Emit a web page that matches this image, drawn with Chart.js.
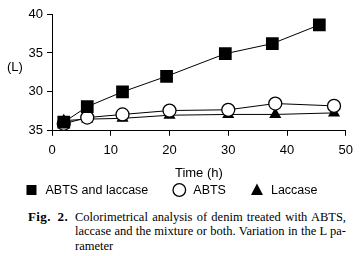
<!DOCTYPE html>
<html>
<head>
<meta charset="utf-8">
<script src="https://cdn.jsdelivr.net/npm/chart.js@4"></script>
<style>
  html, body { margin: 0; padding: 0; background: #fff; }
  #wrap { position: relative; width: 360px; height: 256px; overflow: hidden; }
  #chartBox { position: absolute; left: 0; top: 0; width: 360px; height: 200px; }
  #caption { position: absolute; left: 28px; top: 210px; width: 318px;
    font-family: "Liberation Serif", "Times New Roman", serif; font-size: 12.5px;
    line-height: 14.3px; color: #000; }
  #caption .lab { font-weight: bold; position: absolute; left: 0; top: 0; font-size: 13px; word-spacing: 3px; letter-spacing: 0.4px; }
  #caption .ln { margin-left: 47px; white-space: nowrap; }
  #caption .j { text-align: justify; text-align-last: justify; white-space: normal; }
</style>
</head>
<body>
<div id="wrap">
  <div id="chartBox"><canvas id="c" width="360" height="200"></canvas></div>
  <div id="caption"><span class="lab">Fig. 2.</span><div class="ln j">Colorimetrical analysis of denim treated with ABTS,</div><div class="ln j">laccase and the mixture or both. Variation in the L pa-</div><div class="ln">rameter</div></div>
</div>
<script>
// ---- data ----
const seriesNames = ["ABTS and laccase", "ABTS", "Laccase"];
const timeABTSLaccase = [2, 6, 12, 19.5, 29.5, 37.5, 45.5];
const valABTSLaccase  = [26.1, 28.1, 30.0, 32.0, 34.9, 36.2, 38.6];
const timeABTS = [2, 6, 12, 20, 30, 38, 48];
const valABTS  = [25.9, 26.7, 27.1, 27.6, 27.7, 28.5, 28.2];
const timeLaccase = [2, 6, 12, 20, 30, 38, 48];
const valLaccase  = [26.3, 26.5, 26.6, 27.0, 27.1, 27.1, 27.3];
const yTickValues = [25, 30, 35, 40];
const yTickLabels = ["35", "30", "35", "40"];
const xTickValues = [0, 10, 20, 30, 40, 50];
const xTitle = "Time (h)";
const yTitle = "(L)";

const pts = (xs, ys) => xs.map((x, i) => ({ x: x, y: ys[i] }));
const FONT_FAMILY = '"Liberation Sans", Arial, sans-serif';

const yLabelPlugin = {
  id: 'yLabel',
  afterDraw(chart) {
    const ctx = chart.ctx;
    const y = chart.scales.y.getPixelForValue(33.2);
    ctx.save();
    ctx.fillStyle = '#000';
    ctx.font = '13px ' + FONT_FAMILY;
    ctx.textAlign = 'left';
    ctx.textBaseline = 'middle';
    ctx.fillText(yTitle, 7, y);
    ctx.restore();
  }
};

// legend drawn from the datasets (names + point styles)
const legendPlugin = {
  id: 'customLegend',
  afterDraw(chart) {
    const ctx = chart.ctx;
    ctx.save();
    ctx.font = '12.5px ' + FONT_FAMILY;
    const markW = 14, markGap = 7, itemGap = 24;
    const items = chart.data.datasets.map(ds => ({ ds, w: ctx.measureText(ds.label).width }));
    const total = items.reduce((s, it) => s + markW + markGap + it.w, 0) + itemGap * (items.length - 1);
    let x = chart.width / 2 - total / 2 - 9;
    const y = 190;
    items.forEach(it => {
      const cx = x + markW / 2;
      const ds = it.ds;
      ctx.fillStyle = ds.pointBackgroundColor;
      ctx.strokeStyle = '#000';
      ctx.lineWidth = 1.3;
      ctx.beginPath();
      if (ds.pointStyle === 'rect') {
        ctx.rect(cx - 5, y - 5, 10, 10);
        ctx.fill();
      } else if (ds.pointStyle === 'circle') {
        ctx.arc(cx, y, 6.3, 0, Math.PI * 2);
        ctx.fill(); ctx.stroke();
      } else {
        ctx.moveTo(cx, y - 6.5);
        ctx.lineTo(cx + 6, y + 5);
        ctx.lineTo(cx - 6, y + 5);
        ctx.closePath();
        ctx.fill();
      }
      ctx.fillStyle = '#000';
      ctx.textAlign = 'left';
      ctx.textBaseline = 'middle';
      ctx.fillText(ds.label, x + markW + markGap, y + 0.5);
      x += markW + markGap + it.w + itemGap;
    });
    ctx.restore();
  }
};

const tickFont = { family: FONT_FAMILY, size: 13 };

new Chart(document.getElementById('c'), {
  type: 'line',
  data: {
    datasets: [
      { label: seriesNames[0], data: pts(timeABTSLaccase, valABTSLaccase),
        borderColor: '#000', backgroundColor: '#000', borderWidth: 1,
        pointStyle: 'rect', pointRadius: 9, pointBorderWidth: 0, pointBackgroundColor: '#000' },
      { label: seriesNames[1], data: pts(timeABTS, valABTS),
        borderColor: '#000', backgroundColor: '#fff', borderWidth: 1,
        pointStyle: 'circle', pointRadius: 6.5, pointBorderWidth: 1.3, pointBackgroundColor: '#fff' },
      { label: seriesNames[2], data: pts(timeLaccase, valLaccase),
        borderColor: '#000', backgroundColor: '#000', borderWidth: 1,
        pointStyle: 'triangle', pointRadius: 7, pointBorderWidth: 0, pointBackgroundColor: '#000' }
    ]
  },
  options: {
    responsive: false,
    animation: false,
    devicePixelRatio: 1,
    layout: { padding: { top: 14, right: 10, left: 0, bottom: 19 } },
    elements: { line: { tension: 0 } },
    plugins: {
      legend: { display: false },
      tooltip: { enabled: false }
    },
    scales: {
      x: {
        type: 'linear', min: 0, max: 50,
        afterBuildTicks: s => { s.ticks = xTickValues.map(v => ({ value: v })); },
        ticks: { color: '#000', font: tickFont, padding: 7, maxRotation: 0 },
        grid: { drawOnChartArea: false, drawTicks: true, tickLength: 5, color: '#000' },
        border: { color: '#000', width: 1 },
        title: { display: true, text: xTitle, color: '#000', font: tickFont, padding: { top: 0, bottom: 0 } }
      },
      y: {
        type: 'linear', min: 25, max: 40,
        afterBuildTicks: s => { s.ticks = yTickValues.map(v => ({ value: v })); },
        afterFit: s => { s.width = 52; },
        ticks: { color: '#000', font: tickFont, padding: 4,
          callback: (v) => yTickLabels[yTickValues.indexOf(v)] },
        grid: { drawOnChartArea: false, drawTicks: true, tickLength: 5, color: '#000' },
        border: { color: '#000', width: 1 }
      }
    }
  },
  plugins: [yLabelPlugin, legendPlugin]
});
</script>
</body>
</html>
